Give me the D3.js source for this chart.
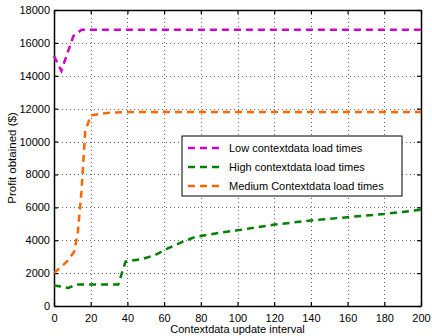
<!DOCTYPE html>
<html>
<head>
<meta charset="utf-8">
<script src="https://cdn.jsdelivr.net/npm/d3@7"></script>
<style>
  body { margin: 0; background: #fff; }
  svg { display: block; font-family: "Liberation Sans", Arial, sans-serif; }
</style>
</head>
<body>
<div id="chart"></div>
<script>
// series values: [interval, profit]
const lowLoad = [[0, 15200], [4, 14300], [10.5, 16400], [15, 16800], [20, 16800], [200, 16800]]
const highLoad = [[0, 1250], [8, 1100], [12, 1300], [35, 1300], [39, 2700], [48, 2850], [55, 3100],
  [62, 3500], [70, 3900], [77, 4200], [90, 4450], [100, 4600], [120, 4950], [140, 5200],
  [160, 5400], [180, 5600], [200, 5850]]
const mediumLoad = [[0, 2000], [7, 2700], [11, 3300], [13, 4500], [15, 7000], [17, 10600],
  [20, 11600], [30, 11750], [40, 11800], [200, 11800]]

const seriesNames = ['Low contextdata load times', 'High contextdata load times', 'Medium Contextdata load times']
const seriesColors = ['#cc00cc', '#008000', '#ff6600']
const xTicks = [0, 20, 40, 60, 80, 100, 120, 140, 160, 180, 200]
const yTicks = [0, 2000, 4000, 6000, 8000, 10000, 12000, 14000, 16000, 18000]

const width = 432
const height = 336
const margin = { top: 10, right: 11, bottom: 30, left: 54 }

const svg = d3.select('#chart')
  .append('svg')
  .attr('width', width)
  .attr('height', height)

const x = d3.scaleLinear().domain([0, 200]).range([margin.left, width - margin.right])
const y = d3.scaleLinear().domain([0, 18000]).range([height - margin.bottom, margin.top])

// dotted grid
const grid = svg.append('g').attr('stroke', '#666').attr('stroke-width', 1).attr('stroke-dasharray', '1,3')
grid.selectAll('.gx')
  .data(xTicks.slice(1, -1))
  .enter().append('line')
  .attr('x1', d => Math.round(x(d)) + 0.5).attr('x2', d => Math.round(x(d)) + 0.5)
  .attr('y1', y(18000)).attr('y2', y(0))
grid.selectAll('.gy')
  .data(yTicks.slice(1, -1))
  .enter().append('line')
  .attr('y1', d => Math.round(y(d)) + 0.5).attr('y2', d => Math.round(y(d)) + 0.5)
  .attr('x1', x(0)).attr('x2', x(200))

// axes with inward ticks, matlab style
const tick = 4
svg.append('g')
  .attr('transform', 'translate(0,' + y(0) + ')')
  .call(d3.axisBottom(x).tickValues(xTicks).tickFormat(d3.format('d')).tickSize(-tick).tickPadding(8).tickSizeOuter(0))
svg.append('g')
  .attr('transform', 'translate(0,' + y(18000) + ')')
  .call(d3.axisTop(x).tickValues(xTicks).tickSize(-tick).tickFormat('').tickSizeOuter(0))
svg.append('g')
  .attr('transform', 'translate(' + x(0) + ',0)')
  .call(d3.axisLeft(y).tickValues(yTicks).tickFormat(d3.format('d')).tickSize(-tick).tickPadding(4).tickSizeOuter(0))
svg.append('g')
  .attr('transform', 'translate(' + x(200) + ',0)')
  .call(d3.axisRight(y).tickValues(yTicks).tickSize(-tick).tickFormat('').tickSizeOuter(0))

svg.selectAll('.domain').attr('stroke', '#000').attr('stroke-width', 1.5)
svg.selectAll('.tick line').attr('stroke', '#000').attr('stroke-width', 1.2)
svg.selectAll('.tick text').attr('fill', '#000').style('font-size', '11px')
  .style('font-family', '"Liberation Sans", Arial, sans-serif')

// lines
const line = d3.line().x(d => x(d[0])).y(d => y(d[1]))
const allSeries = [lowLoad, highLoad, mediumLoad]
svg.append('g').selectAll('path')
  .data(allSeries)
  .enter().append('path')
  .attr('d', line)
  .attr('fill', 'none')
  .attr('stroke', (d, i) => seriesColors[i])
  .attr('stroke-width', 2.5)
  .attr('stroke-dasharray', '7,5')

// axis labels
svg.append('text')
  .attr('x', (x(0) + x(200)) / 2)
  .attr('y', 333)
  .attr('text-anchor', 'middle')
  .style('font-size', '11px')
  .text('Contextdata update interval')

svg.append('text')
  .attr('transform', 'translate(16,' + ((y(0) + y(18000)) / 2) + ') rotate(-90)')
  .attr('text-anchor', 'middle')
  .style('font-size', '11.5px')
  .text('Profit obtained ($)')

// legend
const legend = svg.append('g').attr('transform', 'translate(182,136)')
legend.append('rect')
  .attr('width', 220).attr('height', 60)
  .attr('fill', '#fff').attr('stroke', '#000').attr('stroke-width', 1)
const rows = legend.selectAll('.row')
  .data(seriesNames)
  .enter().append('g')
  .attr('transform', (d, i) => 'translate(0,' + (12 + i * 19) + ')')
rows.append('line')
  .attr('x1', 6).attr('x2', 38).attr('y1', 0).attr('y2', 0)
  .attr('stroke', (d, i) => seriesColors[i])
  .attr('stroke-width', 2.5)
  .attr('stroke-dasharray', '7,5')
rows.append('text')
  .attr('x', 47).attr('y', 4)
  .style('font-size', '11px')
  .text(d => d)
</script>
</body>
</html>
